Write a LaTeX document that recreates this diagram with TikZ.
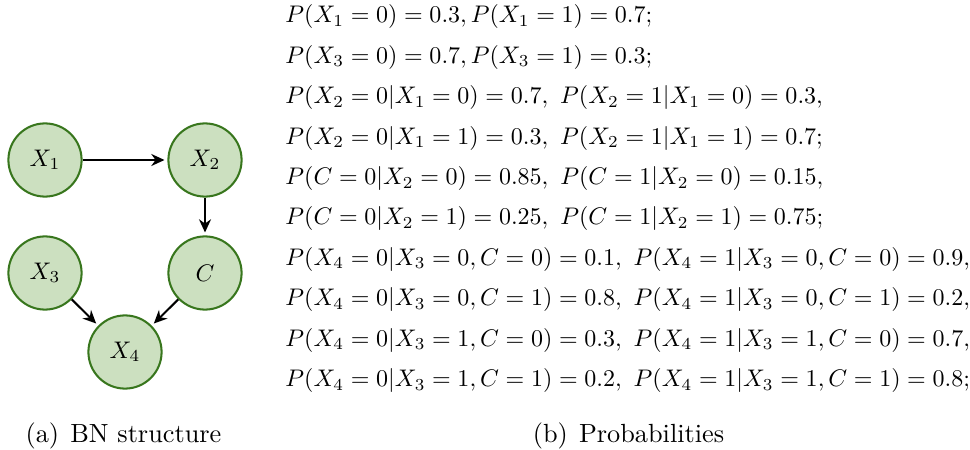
\documentclass[tikz,border=0pt]{standalone}
\usetikzlibrary{arrows.meta}
\definecolor{nodefill}{RGB}{204,224,192}
\definecolor{nodedraw}{RGB}{56,118,29}
\begin{document}
\begin{tikzpicture}[x=0.41667pt,y=-0.41667pt,
  bn/.style={circle,draw=nodedraw,fill=nodefill,line width=0.85pt,minimum size=30.5pt,inner sep=0pt},
  edge/.style={-{Stealth[length=5.5pt,width=5pt]},line width=0.85pt,shorten >=1.2pt},
  prob/.style={anchor=base west,inner sep=0pt},
  captext/.style={anchor=base,inner sep=0pt,font=\fontsize{10.95}{13}\selectfont}]
\useasboundingbox (0,0) rectangle (970,450);
\node[bn] (x1) at (45,160) {$X_1$};
\node[bn] (x2) at (205,160) {$X_2$};
\node[bn] (x3) at (45,273) {$X_3$};
\node[bn] (c) at (205,273) {$C$};
\node[bn] (x4) at (125,352) {$X_4$};
\draw[edge] (x1) -- (x2);
\draw[edge] (x2) -- (c);
\draw[edge] (x3) -- (x4);
\draw[edge] (c) -- (x4);
\node[prob] (l1) at (285,23) {$P(X_1=0)=0.3, P(X_1=1)=0.7;$};
\node[prob] (l2) at (285,63.4) {$P(X_3=0)=0.7, P(X_3=1)=0.3;$};
\node[prob] (l3) at (285,103.8) {$P(X_2=0|X_1=0)=0.7,~P(X_2=1|X_1=0)=0.3,$};
\node[prob] (l4) at (285,144.2) {$P(X_2=0|X_1=1)=0.3,~P(X_2=1|X_1=1)=0.7;$};
\node[prob] (l5) at (285,184.6) {$P(C=0|X_2=0)=0.85,~P(C=1|X_2=0)=0.15,$};
\node[prob] (l6) at (285,225) {$P(C=0|X_2=1)=0.25,~P(C=1|X_2=1)=0.75;$};
\node[prob] (l7) at (285,265.4) {$P(X_4=0|X_3=0,C=0)=0.1,~P(X_4=1|X_3=0,C=0)=0.9,$};
\node[prob] (l8) at (285,305.8) {$P(X_4=0|X_3=0,C=1)=0.8,~P(X_4=1|X_3=0,C=1)=0.2,$};
\node[prob] (l9) at (285,346.2) {$P(X_4=0|X_3=1,C=0)=0.3,~P(X_4=1|X_3=1,C=0)=0.7,$};
\node[prob] (l10) at (285,386.6) {$P(X_4=0|X_3=1,C=1)=0.2,~P(X_4=1|X_3=1,C=1)=0.8;$};
\node[captext] (ca) at (123.5,442) {(a)\ \kern1pt BN structure};
\node[captext] (cb) at (628.5,442) {(b)\ \kern1pt Probabilities};
\end{tikzpicture}
\end{document}
